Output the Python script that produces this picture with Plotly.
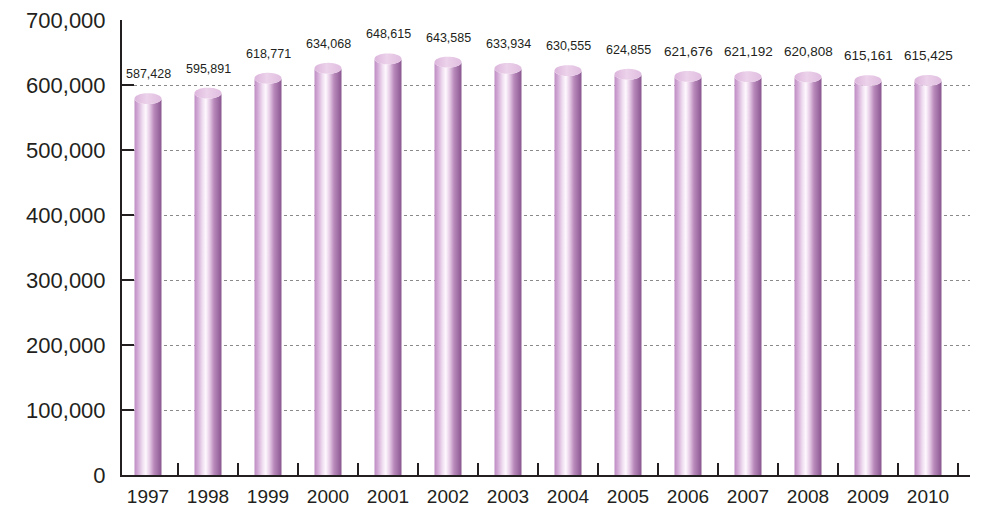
import numpy as np
import plotly.graph_objects as go

years = ["1997", "1998", "1999", "2000", "2001", "2002", "2003", "2004",
         "2005", "2006", "2007", "2008", "2009", "2010"]
values = [587428, 595891, 618771, 634068, 648615, 643585, 633934, 630555,
          624855, 621676, 621192, 620808, 615161, 615425]
value_labels = ["587,428", "595,891", "618,771", "634,068", "648,615", "643,585",
                "633,934", "630,555", "624,855", "621,676", "621,192", "620,808",
                "615,161", "615,425"]
y_ticks = [0, 100000, 200000, 300000, 400000, 500000, 600000, 700000]

TEXT = "#231f20"
SANS = "Liberation Sans, Arial, sans-serif"

half_w = 0.225
ry = 8400
t = np.linspace(0, np.pi, 40)

body_scale = [[0.0, "#bd8cc2"], [0.12, "#d2a9d5"], [0.3, "#f0dff1"],
              [0.42, "#fef8fd"], [0.55, "#e8cfe8"], [0.72, "#b98abc"],
              [1.0, "#8a5790"]]

fig = go.Figure()
for i, v in enumerate(values):
    c = v - ry
    ax = i - half_w * np.cos(t)
    ay = c - ry * np.sin(t)
    bx = i + half_w * np.cos(t)
    by = 0 - ry * np.sin(t)
    xs = np.concatenate([[i - half_w], ax, [i + half_w], bx])
    ys = np.concatenate([[0], ay, [0], by])
    fig.add_trace(go.Scatter(
        x=xs, y=ys, mode="none", fill="toself",
        fillgradient=dict(type="horizontal", colorscale=body_scale),
        hoverinfo="skip", showlegend=False))
    tt = np.linspace(0, 2 * np.pi, 60)
    fig.add_trace(go.Scatter(
        x=i + half_w * np.cos(tt), y=c + ry * np.sin(tt),
        mode="none", fill="toself",
        fillgradient=dict(type="horizontal",
                          colorscale=[[0, "#dcb5dc"], [0.45, "#ecd2ea"], [1, "#e0bde0"]]),
        hoverinfo="skip", showlegend=False))

for i, (v, lab) in enumerate(zip(values, value_labels)):
    big = i >= 9
    fig.add_annotation(x=i, y=v, text=lab, showarrow=False, yanchor="bottom",
                       yshift=10, font=dict(family=SANS, size=13.5 if big else 12.5, color=TEXT))

# page body has an 8px margin, so the figure is shrunk by 8px to fit the window
fig.update_layout(
    width=977, height=500,
    margin=dict(l=114, r=15, t=12, b=33),
    paper_bgcolor="white", plot_bgcolor="white",
    showlegend=False,
    xaxis=dict(
        range=[-0.4333, 13.7],
        tickmode="array", tickvals=list(range(len(years))),
        ticktext=years,
        ticks="", showgrid=False, zeroline=False,
        showline=True, linecolor=TEXT, linewidth=2,
        tickfont=dict(family=SANS, size=19, color=TEXT),
        ticklabelstandoff=3,
        ticklabeloverflow="allow",
        automargin=False,
        minor=dict(ticks="inside", tick0=0.5, dtick=1, ticklen=12,
                   tickwidth=2, tickcolor=TEXT, showgrid=False),
    ),
    yaxis=dict(
        range=[0, 700000],
        tickmode="array", tickvals=y_ticks,
        tickformat=",",
        ticks="inside", ticklen=12, tickwidth=2, tickcolor=TEXT,
        showline=True, linecolor=TEXT, linewidth=2,
        showgrid=True, gridcolor="#8a8a8a", griddash="dot", gridwidth=1,
        zeroline=False,
        automargin=False,
        ticklabeloverflow="allow",
        tickfont=dict(family=SANS, size=22, color=TEXT),
        ticklabelstandoff=10,
    ),
)

fig.write_html("out.html")
